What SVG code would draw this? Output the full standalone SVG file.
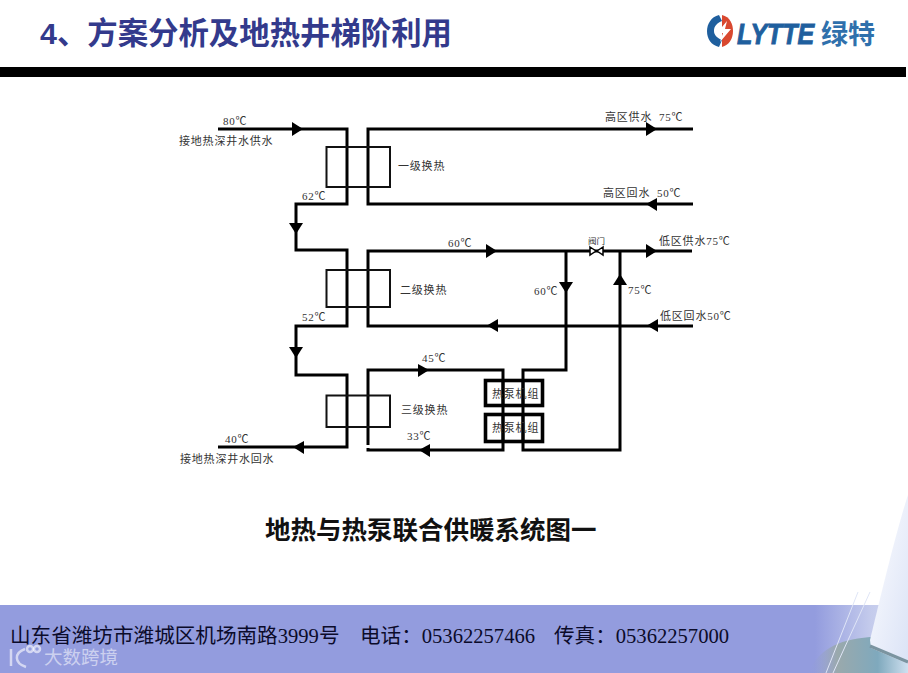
<svg xmlns="http://www.w3.org/2000/svg" width="908" height="673" viewBox="0 0 908 673">
<style>
.pipe{fill:none;stroke:#000;stroke-width:3;stroke-linejoin:miter;stroke-linecap:butt}
.hx{fill:none;stroke:#111;stroke-width:2}
.hp{fill:none;stroke:#000;stroke-width:3.6}
.t{font-family:"Liberation Serif","Noto Sans CJK SC",serif;font-size:11px;fill:#333;letter-spacing:.8px}
.a{fill:#000}
.foot{font-family:"Liberation Serif","Noto Sans CJK SC",serif;font-size:20.6px;fill:#0b0b2a}
</style>
<defs>
<linearGradient id="sail" x1="0" y1="0" x2="1" y2="1"><stop offset="0" stop-color="#fdfdff"/><stop offset="1" stop-color="#dbe3f6"/></linearGradient>
<linearGradient id="cloud" x1="0" y1="0" x2="1" y2="0"><stop offset="0" stop-color="#939cde"/><stop offset=".6" stop-color="#c4cbec"/><stop offset="1" stop-color="#d4daf2"/></linearGradient>
<linearGradient id="hull" x1="0" y1="0" x2="1" y2="0"><stop offset="0" stop-color="#939cde" stop-opacity="0"/><stop offset=".3" stop-color="#9aa9ac"/><stop offset=".7" stop-color="#7fa9bd"/><stop offset="1" stop-color="#cfe0f0"/></linearGradient>
</defs>
<rect width="908" height="673" fill="#fff"/>
<g id="header">
<text x="40" y="44" font-family="'Liberation Sans','Noto Sans CJK SC',sans-serif" font-size="30.4" font-weight="700" fill="#333a8c">4、方案分析及地热井梯阶利用</text>
<rect x="0" y="67" width="906" height="10" fill="#000"/>
</g>
<g id="logo">
<path d="M719 15C711 17 707 24 707 31C707 39 711 45 719 47L722 40C717 38 714 35 714 31C714 26 717 23 722 21Z" fill="#1f5f9e"/>
<path d="M722 15C730 17 733 24 733 31C733 39 729 45 722 47Z" fill="#d9482f"/>
<path d="M727 21L717 33L723 33L720 42L731 29L725 29Z" fill="#fff"/>
<text transform="translate(737 44) scale(1 1.2)" font-family="'Liberation Sans',sans-serif" font-size="25" font-weight="700" font-style="italic" fill="#1f5f9e" stroke="#1f5f9e" stroke-width=".8">LYTTE</text>
<text x="821" y="44" font-family="'Noto Sans CJK SC',sans-serif" font-size="27" font-weight="700" fill="#2f70ac">绿特</text>
</g>
<g id="band-bg">
<rect x="0" y="605" width="908" height="68" fill="#939cde"/>
<rect x="815" y="605" width="93" height="68" fill="url(#cloud)"/>
<path d="M807 673C820 650 835 640 870 637L908 650V673Z" fill="url(#hull)"/>
<path d="M870 640C882 590 898 525 908 495V664L871 648Z" fill="url(#sail)"/>
<path d="M826 673L858 592M833 673L870 592" stroke="#dfe5f6" stroke-width="1" fill="none"/>
<path d="M870 646L908 662" stroke="#7b94a0" stroke-width="3" fill="none"/>
</g>
<g id="connectors">
<path class="pipe" d="M218 129H347V204H296V250H347V326H296V375H347V447H218"/>
<path class="pipe" d="M693 129H368V204H693"/>
<path class="pipe" d="M692 251H368V326H693"/>
<path class="pipe" d="M368 445V370H503V450H368V448"/>
<path class="pipe" d="M566 251V370H523V450H620V251"/>
<path class="a" d="M292 122L303 129L292 136Z"/>
<path class="a" d="M646 122L657 129L646 136Z"/>
<path class="a" d="M657 198L646 204L657 211Z"/>
<path class="a" d="M289 223H303L296 234Z"/>
<path class="a" d="M289 347H303L296 358Z"/>
<path class="a" d="M486 244L497 251L486 258Z"/>
<path class="a" d="M646 244L657 251L646 258Z"/>
<path class="a" d="M559 282H573L566 293Z"/>
<path class="a" d="M613 285H627L620 274Z"/>
<path class="a" d="M498 319L487 325.500L498 332Z"/>
<path class="a" d="M658 319L647 325.500L658 332Z"/>
<path class="a" d="M418 364L429 370L418 377Z"/>
<path class="a" d="M430 444L419 450L430 457Z"/>
<path class="a" d="M304 441L293 447L304 454Z"/>
</g>
<g id="valve">
<path d="M590 247L596 251L590 255ZM603 247L597 251L603 255Z" fill="#fff" stroke="#000" stroke-width="1.500"/>
<text class="t" x="588" y="244" style="font-size:8.500px;letter-spacing:0">阀门</text>
</g>
<g id="hx1"><rect class="hx" x="326.500" y="147" width="63.500" height="40"/><text class="t" x="398" y="170">一级换热</text></g>
<g id="hx2"><rect class="hx" x="326.500" y="270" width="63.500" height="37"/><text class="t" x="400" y="294">二级换热</text></g>
<g id="hx3"><rect class="hx" x="326.500" y="395.500" width="63.500" height="31.500"/><text class="t" x="401" y="414">三级换热</text></g>
<g id="hp1"><rect class="hp" x="485.500" y="380.500" width="57" height="25"/><path class="pipe" d="M503 379V407M523 379V407"/><text class="t" x="492" y="398">热泵机组</text></g>
<g id="hp2"><rect class="hp" x="485.500" y="414.500" width="57" height="27"/><path class="pipe" d="M503 413V443M523 413V443"/><text class="t" x="492" y="432">热泵机组</text></g>
<g id="labels">
<text class="t" x="223" y="125">80℃</text>
<text class="t" x="179" y="145">接地热深井水供水</text>
<text class="t" x="302" y="200">62℃</text>
<text class="t" x="302" y="321">52℃</text>
<text class="t" x="225" y="443">40℃</text>
<text class="t" x="180" y="463">接地热深井水回水</text>
<text class="t" x="605" y="121">高区供水<tspan x="659">75℃</tspan></text>
<text class="t" x="603" y="197">高区回水<tspan x="657">50℃</tspan></text>
<text class="t" x="448" y="247">60℃</text>
<text class="t" x="659" y="245">低区供水75℃</text>
<text class="t" x="534" y="295">60℃</text>
<text class="t" x="628" y="294">75℃</text>
<text class="t" x="660" y="320">低区回水50℃</text>
<text class="t" x="422" y="362">45℃</text>
<text class="t" x="407" y="440">33℃</text>
</g>
<text id="caption" x="265" y="539" font-family="'Noto Sans CJK SC',sans-serif" font-size="25.500" font-weight="700" fill="#111">地热与热泵联合供暖系统图一</text>
<text id="footer" class="foot" x="10" y="643">山东省潍坊市潍城区机场南路3999号<tspan x="360">电话：05362257466</tspan><tspan x="554">传真：05362257000</tspan></text>
<text id="watermark" x="44" y="664" font-family="'Noto Sans CJK SC',sans-serif" font-size="18.500" fill="#fff" fill-opacity=".55">大数跨境</text>
<g id="watermark-mark" fill="none" stroke="#fff" stroke-opacity=".6" stroke-width="2.500"><path d="M11 649V666M25 649C14 653 14 663 26 667"/><circle cx="30" cy="649" r="3"/><circle cx="37" cy="649" r="3"/></g>
</svg>
